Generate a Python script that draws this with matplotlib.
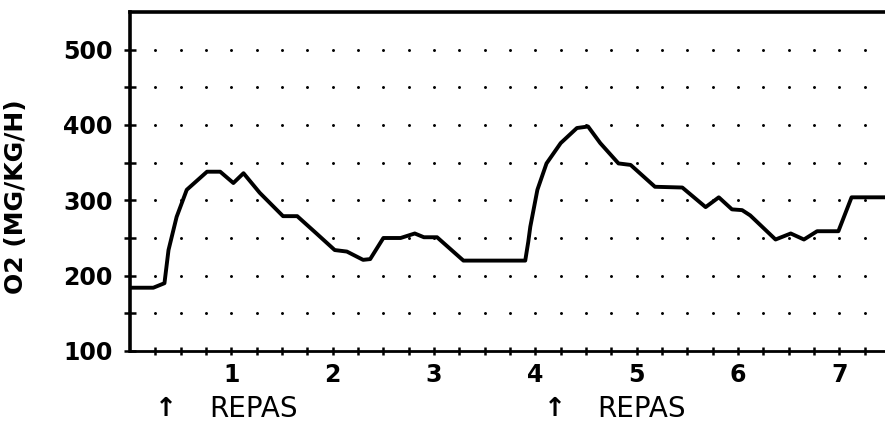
import numpy as np
import matplotlib.pyplot as plt
from matplotlib.transforms import blended_transform_factory

# O2 consumption
hours = [0.0, 0.23, 0.34, 0.38, 0.46, 0.56, 0.76, 0.89, 1.02, 1.12, 1.28, 1.51, 1.65,
         1.84, 2.02, 2.14, 2.30, 2.37, 2.50, 2.67, 2.81, 2.90, 3.03, 3.29, 3.90,
         3.93, 3.95, 4.02, 4.11, 4.25, 4.41, 4.52, 4.64, 4.82, 4.94, 5.18, 5.45,
         5.68, 5.81, 5.94, 6.04, 6.12, 6.37, 6.52, 6.65, 6.78, 6.99, 7.12, 7.45]
o2 = [184, 184, 190, 234, 278, 314, 338, 338, 323, 336, 310, 279, 279,
      256, 234, 232, 221, 222, 250, 250, 256, 251, 251, 220, 220,
      245, 265, 314, 349, 376, 396, 398, 376, 349, 347, 318, 317,
      291, 304, 288, 287, 280, 248, 256, 248, 259, 259, 304, 304]

x_ticks = [1, 2, 3, 4, 5, 6, 7]
y_ticks = [100, 200, 300, 400, 500]
meals = [0.36, 4.19]

plt.rcParams['font.family'] = ['DejaVu Sans']
plt.rcParams['font.weight'] = 'bold'

fig = plt.figure(figsize=(8.85, 4.24), dpi=100)
ax = fig.add_axes([130/885, 1 - 351/424, 1 - 130/885, 339/424])

# dotted grid
gx, gy = np.meshgrid(np.arange(0.25, 7.5, 0.25), np.arange(150, 501, 50))
ax.scatter(gx.ravel(), gy.ravel(), s=4.5, color='black', linewidths=0)

ax.plot(hours, o2, color='black', lw=2.8, solid_joinstyle='round')

ax.set_xlim(0, 7.45)
ax.set_ylim(100, 550)
ax.set_xticks(x_ticks)
ax.set_xticks(np.arange(0.25, 7.5, 0.25), minor=True)
ax.set_yticks(y_ticks)
ax.set_yticks(np.arange(150, 550, 100), minor=True)
ax.tick_params(axis='both', which='both', direction='inout', color='black', width=1.8)
ax.tick_params(axis='y', which='both', length=9, labelsize=17, pad=8)
ax.tick_params(axis='x', which='both', length=6, labelsize=17, pad=6)

ax.spines['left'].set_linewidth(2.6)
ax.spines['bottom'].set_linewidth(2.0)
ax.spines['top'].set_linewidth(2.6)
ax.spines['right'].set_visible(False)

ax.set_ylabel('O2 (MG/KG/H)', fontsize=18, fontweight='bold')
ax.yaxis.set_label_coords(-(130 - 28) / 755, (351 - 197) / 339)

trans = blended_transform_factory(ax.transData, ax.transAxes)
for m in meals:
    ax.text(m, -0.17, '↑', transform=trans, ha='center', va='center',
            fontsize=19, fontweight='bold')
    ax.text(m + 0.42, -0.17, 'REPAS', transform=trans, ha='left', va='center',
            fontsize=20, fontweight='normal')

fig.savefig('out.png', dpi=100)
